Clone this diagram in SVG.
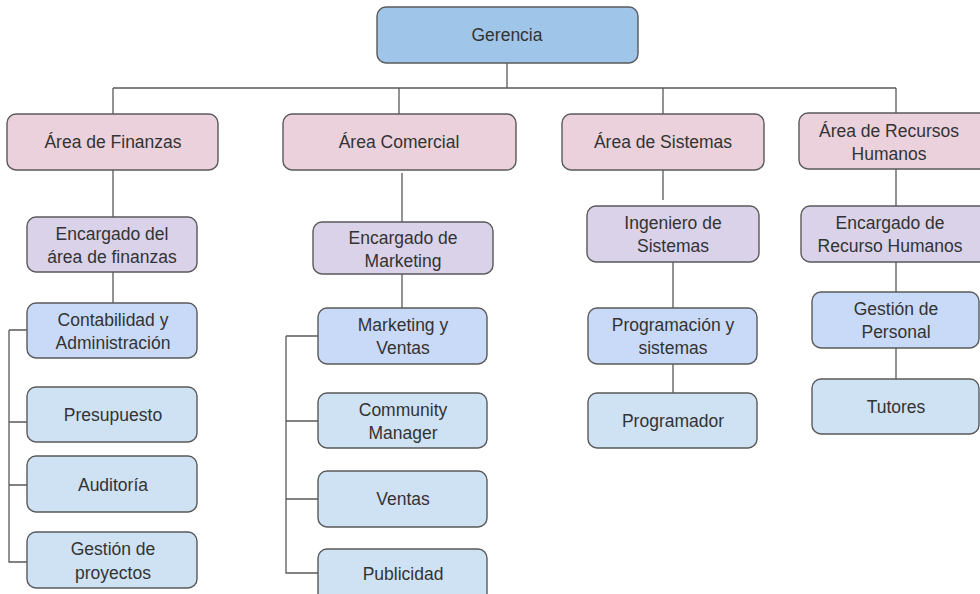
<svg xmlns="http://www.w3.org/2000/svg" width="980" height="594" viewBox="0 0 980 594">
<style>
.n{stroke:#595959;stroke-width:1.4}
.g{fill:#9fc5e8}.a{fill:#ead1dc}.e{fill:#d9d2e9}.s{fill:#c9daf8}.t{fill:#cfe2f3}
text{font-family:"Liberation Sans",Arial,sans-serif;font-size:17.5px;fill:#333;text-anchor:middle}
.c{fill:none;stroke:#595959;stroke-width:1.3}
</style>
<rect width="980" height="594" fill="#fff"/>
<g id="connectors" class="c">
<path d="M507 63V88M113 88H896M113 88V114M399 88V114M663 88V114M896 88V113"/>
<path d="M113 170V217M113 272V303M9 330H27M9 330V562H27M9 422H27M9 485H27"/>
<path d="M402 173V222M402 274V308M286 336H318M286 336V573H318M286 421H318M286 499H318"/>
<path d="M663 170V200M673 262V308M673 364V393"/>
<path d="M896 169V206M896 262V292M896 348V379"/>
</g>
<g id="gerencia"><rect class="n g" x="377" y="7" width="261" height="56" rx="9"/><text x="507" y="41">Gerencia</text></g>
<g id="finanzas"><rect class="n a" x="7" y="114" width="211" height="56" rx="9"/><text x="113" y="148">Área de Finanzas</text></g>
<g id="comercial"><rect class="n a" x="283" y="114" width="233" height="56" rx="9"/><text x="399" y="148">Área Comercial</text></g>
<g id="sistemas"><rect class="n a" x="562" y="114" width="202" height="56" rx="9"/><text x="663" y="148">Área de Sistemas</text></g>
<g id="rrhh"><rect class="n a" x="799" y="113" width="190" height="56" rx="9"/><text x="889" y="137">Área de Recursos</text><text x="889" y="160">Humanos</text></g>
<g id="enc-finanzas"><rect class="n e" x="27" y="217" width="170" height="55" rx="9"/><text x="112" y="240">Encargado del</text><text x="112" y="263">área de finanzas</text></g>
<g id="enc-marketing"><rect class="n e" x="313" y="222" width="180" height="52" rx="9"/><text x="403" y="244">Encargado de</text><text x="403" y="267">Marketing</text></g>
<g id="ingeniero"><rect class="n e" x="587" y="206" width="172" height="56" rx="9"/><text x="673" y="229">Ingeniero de</text><text x="673" y="252">Sistemas</text></g>
<g id="enc-rrhh"><rect class="n e" x="801" y="206" width="188" height="56" rx="9"/><text x="890" y="229">Encargado de</text><text x="890" y="252">Recurso Humanos</text></g>
<g id="contabilidad"><rect class="n s" x="27" y="303" width="170" height="55" rx="9"/><text x="113" y="326">Contabilidad y</text><text x="113" y="349">Administración</text></g>
<g id="presupuesto"><rect class="n t" x="27" y="387" width="170" height="55" rx="9"/><text x="113" y="421">Presupuesto</text></g>
<g id="auditoria"><rect class="n t" x="27" y="456" width="170" height="56" rx="9"/><text x="113" y="491">Auditoría</text></g>
<g id="gestion-proyectos"><rect class="n t" x="27" y="532" width="170" height="56" rx="9"/><text x="113" y="555">Gestión de</text><text x="113" y="579">proyectos</text></g>
<g id="marketing-ventas"><rect class="n s" x="318" y="308" width="169" height="56" rx="9"/><text x="403" y="331">Marketing y</text><text x="403" y="354">Ventas</text></g>
<g id="community"><rect class="n t" x="318" y="393" width="169" height="55" rx="9"/><text x="403" y="416">Community</text><text x="403" y="439">Manager</text></g>
<g id="ventas"><rect class="n t" x="318" y="471" width="169" height="56" rx="9"/><text x="403" y="505">Ventas</text></g>
<g id="publicidad"><rect class="n t" x="318" y="549" width="169" height="56" rx="9"/><text x="403" y="580">Publicidad</text></g>
<g id="programacion"><rect class="n s" x="588" y="308" width="169" height="56" rx="9"/><text x="673" y="331">Programación y</text><text x="673" y="354">sistemas</text></g>
<g id="programador"><rect class="n t" x="588" y="393" width="169" height="55" rx="9"/><text x="673" y="427">Programador</text></g>
<g id="gestion-personal"><rect class="n s" x="812" y="292" width="167" height="56" rx="9"/><text x="896" y="315">Gestión de</text><text x="896" y="338">Personal</text></g>
<g id="tutores"><rect class="n t" x="812" y="379" width="167" height="55" rx="9"/><text x="896" y="413">Tutores</text></g>
</svg>
